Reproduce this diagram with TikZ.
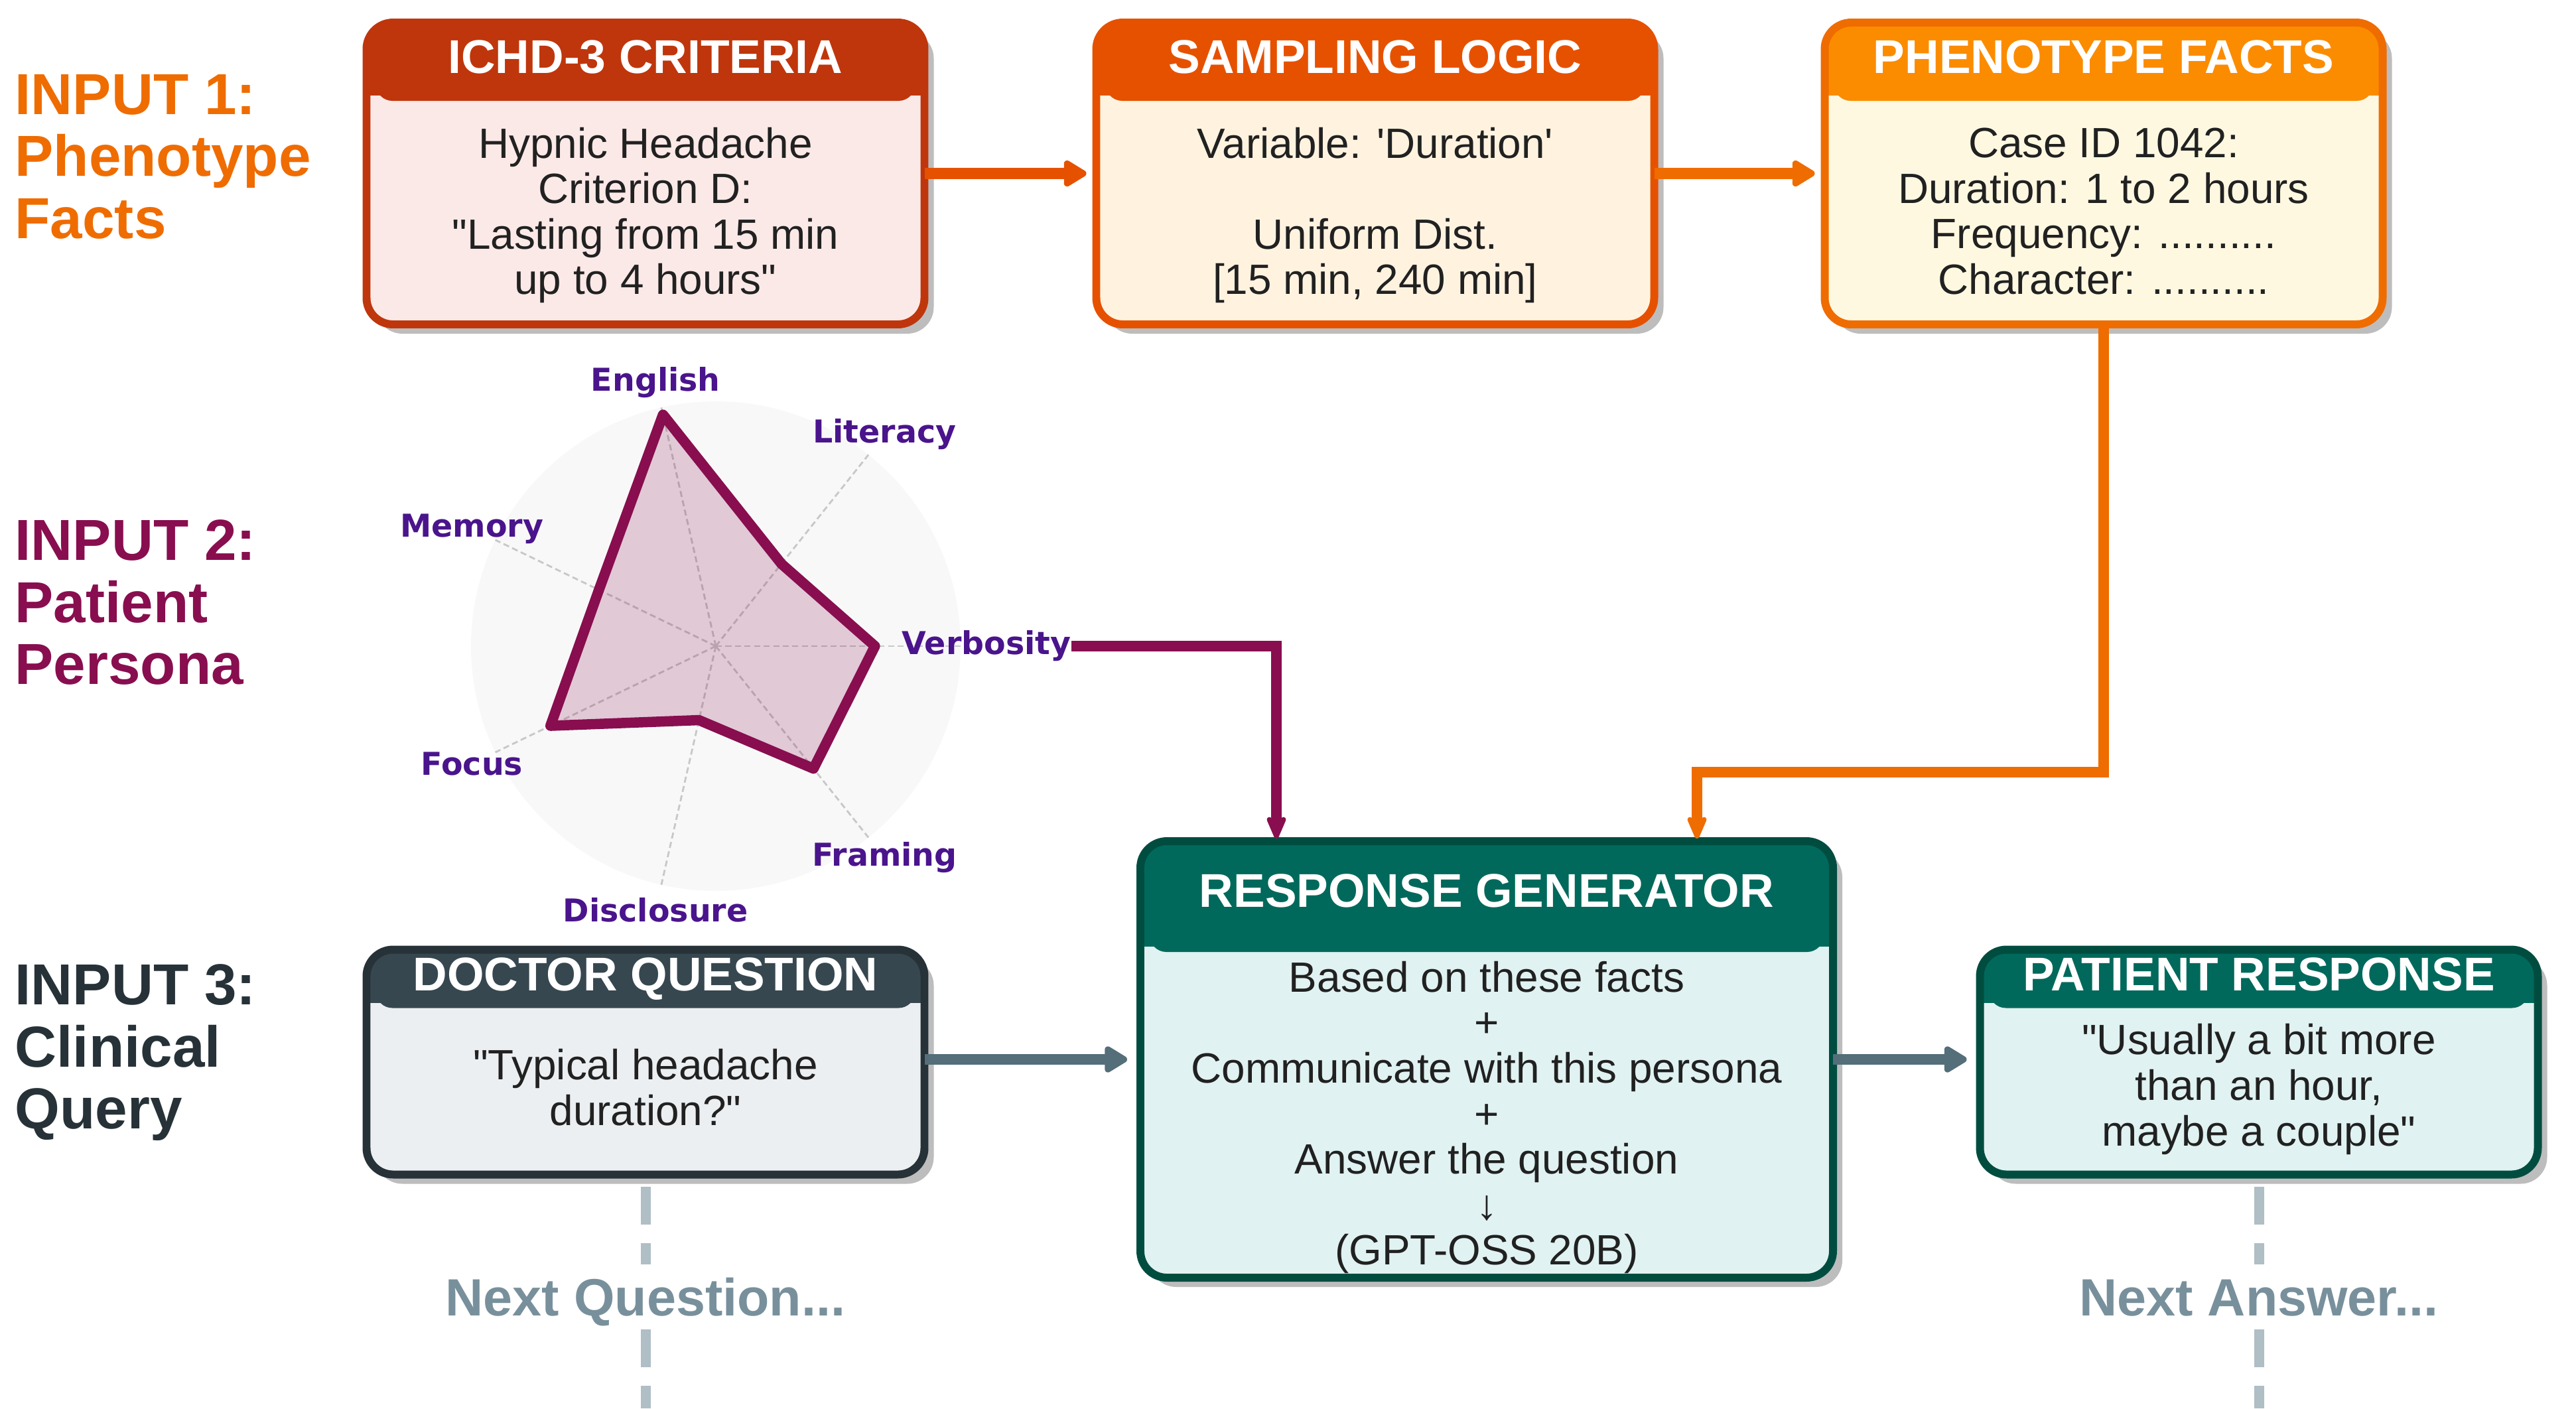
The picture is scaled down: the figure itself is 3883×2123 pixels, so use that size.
\documentclass[tikz,border=0pt]{standalone}
\usepackage{fontspec}
\setmainfont{Liberation Sans}[Ligatures=TeXOff]
\newfontfamily\radarfont{DejaVu Sans}[Ligatures=TeXOff]
\usetikzlibrary{arrows.meta,calc}

% panel colours: B = border, H = header band, F = body fill
\definecolor{ichdB}{HTML}{BF360C}\definecolor{ichdH}{HTML}{BF360C}\definecolor{ichdF}{HTML}{FBE9E7}
\definecolor{sampB}{HTML}{E65100}\definecolor{sampH}{HTML}{E65100}\definecolor{sampF}{HTML}{FFF3E0}
\definecolor{phenB}{HTML}{EF6C00}\definecolor{phenH}{HTML}{FB8C00}\definecolor{phenF}{HTML}{FFF8E1}
\definecolor{genB}{HTML}{004D40}\definecolor{genH}{HTML}{00695C}\definecolor{genF}{HTML}{E0F2F1}
\definecolor{docB}{HTML}{263238}\definecolor{docH}{HTML}{37474F}\definecolor{docF}{HTML}{ECEFF1}
\definecolor{shadowgray}{HTML}{BDBDBD}
\definecolor{bodyink}{HTML}{212121}
\definecolor{inOne}{HTML}{EF6C00}
\definecolor{inTwo}{HTML}{880E4F}
\definecolor{inThree}{HTML}{263238}
\definecolor{radarlbl}{HTML}{4A148C}
\definecolor{radarbg}{HTML}{F8F8F8}
\definecolor{spokegray}{HTML}{C8C8C8}
\definecolor{arrowgray}{HTML}{546E7A}
\definecolor{nextink}{HTML}{78909C}
\definecolor{nextdash}{HTML}{B0BEC5}

\tikzset{
  paneltitle/.style={anchor=base, inner sep=0pt, text=white,
    font=\bfseries\fontsize{20.3}{22}\selectfont},
  panelbody/.style={align=center, inner sep=0pt, text=bodyink,
    font=\fontsize{18.15}{19.5}\selectfont},
  inputlbl/.style={anchor=west, align=left, inner sep=0pt,
    font=\bfseries\fontsize{24.8}{26.6}\selectfont},
  axislbl/.style={inner sep=0pt, text=radarlbl,
    font=\radarfont\bfseries\fontsize{13.5}{15}\selectfont},
  spoke/.style={spokegray, line width=0.8pt, dash pattern=on 2.6pt off 1.5pt},
  flow/.style={line width=4.6pt},
  tri/.style={-{Triangle[length=11pt,width=12.5pt,round]}},
  stl/.style={-{Stealth[length=13.5pt,width=11.5pt,inset=5pt,round]}},
  nextline/.style={nextdash, line width=4.27pt, dash pattern=on 16.2pt off 8pt},
  nexttext/.style={inner sep=0pt, minimum height=0.96cm, text height=16.1pt, text depth=0pt,
    text=nextink, font=\bfseries\fontsize{22.5}{24}\selectfont},
}

% #1 name, #2 centre, #3 width, #4 height, #5 header depth, #6 colour prefix,
% #7 title, #8 body, #9 vertical nudge of the body text
\newcommand{\panel}[9]{%
  \node[minimum width={#3*0.01cm}, minimum height={#4*0.01cm}, inner sep=0pt, outer sep=0pt] (#1) at #2 {};
  \fill[shadowgray, rounded corners=0.4cm] ($(#1.south west)+(14,14)$) rectangle ($(#1.north east)+(14,14)$);
  \begin{scope}
    \clip[rounded corners=0.4cm] (#1.south west) rectangle (#1.north east);
    \fill[#6F] (#1.south west) rectangle (#1.north east);
    \fill[#6H] (#1.north west) rectangle ($(#1.north east)+(0,#5-8)$);
    \fill[#6H, rounded corners=0.25cm] ($(#1.north west)+(14,#5-50)$) rectangle ($(#1.north east)+(-14,#5)$);
  \end{scope}
  \draw[#6B, line width=3.4pt, rounded corners=0.4cm] (#1.south west) rectangle (#1.north east);
  \node[paneltitle] at ($(#1.north)+(0,{0.47*#5+21})$) {#7};
  \node[panelbody] at ($(#1.north)+(0,{(#4+#5)/2+4+#9})$) {#8};
}

\begin{document}
\begin{tikzpicture}[x=0.01cm, y=-0.01cm]
\useasboundingbox (0,0) rectangle (3883,2123);

% row labels
\node[inputlbl, text=inOne]   (lblOne)   at (22,236)  {INPUT 1:\\Phenotype\\Facts};
\node[inputlbl, text=inTwo]   (lblTwo)   at (22,908)  {INPUT 2:\\Patient\\Persona};
\node[inputlbl, text=inThree] (lblThree) at (22,1587) {INPUT 3:\\Clinical\\Query};

% persona radar chart
\begin{scope}[shift={(1079,974)}, yscale=-1]
  \fill[radarbg] (0,0) circle (369);
  \foreach \k in {0,...,6} \draw[spoke] (0,0) -- ({\k*360/7}:369);
  \filldraw[draw=inTwo, fill=inTwo, fill opacity=0.2, line width=4.4pt, line join=round]
    (0:{0.65*369}) -- ({360/7}:{0.43*369}) -- ({2*360/7}:{0.97*369})
    -- ({3*360/7}:{0.53*369}) -- ({4*360/7}:{0.75*369})
    -- ({5*360/7}:{0.31*369}) -- ({6*360/7}:{0.64*369}) -- cycle;
  \node[axislbl] (verb) at (0:408) {Verbosity};
  \node[axislbl] (lit)  at ({360/7}:408) {Literacy};
  \node[axislbl] (eng)  at ({2*360/7}:408) {English};
  \node[axislbl] (mem)  at ({3*360/7}:408) {Memory};
  \node[axislbl] (foc)  at ({4*360/7}:408) {Focus};
  \node[axislbl] (disc) at ({5*360/7}:408) {Disclosure};
  \node[axislbl] (fram) at ({6*360/7}:408) {Framing};
\end{scope}

% continuation lines below the dialogue turns
\node[nexttext] (nextQ) at (973,1955) {Next Question...};
\node[nexttext] (nextA) at (3405,1955) {Next Answer...};
\coordinate (qEnd) at (973,2123);
\coordinate (aEnd) at (3405,2123);
\draw[nextline] (973,1789) -- (nextQ.north);
\draw[nextline] (nextQ.south) -- (qEnd);
\draw[nextline] (3405,1789) -- (nextA.north);
\draw[nextline] (nextA.south) -- (aEnd);

% panels
\panel{ichd}{(973,261.5)}{841}{455}{118}{ichd}{ICHD-3 CRITERIA}
  {Hypnic Headache\\Criterion D:\\"Lasting from 15 min\\up to 4 hours"}{0}
\panel{samp}{(2073,261.5)}{841}{455}{118}{samp}{SAMPLING LOGIC}
  {Variable: 'Duration'\\~\\Uniform Dist.\\{[}15 min, 240 min{]}}{0}
\panel{phen}{(3171,261.5)}{841}{455}{118}{phen}{PHENOTYPE FACTS}
  {Case ID 1042:\\Duration: 1 to 2 hours\\Frequency: ..........\\Character: ..........}{-6}
\panel{gen}{(2241,1597)}{1044}{658}{167}{gen}{RESPONSE GENERATOR}
  {Based on these facts\\+\\Communicate with this persona\\+\\Answer the question\\↓\\(GPT-OSS 20B)}{0}
\panel{doc}{(973,1601)}{841}{339}{88}{doc}{DOCTOR QUESTION}
  {"Typical headache\\duration?"}{-10}
\panel{pat}{(3405,1601)}{841}{339}{88}{gen}{PATIENT RESPONSE}
  {"Usually a bit more\\than an hour,\\maybe a couple"}{-7}

% connectors
\coordinate (phJoin) at (2558,1164);
\draw[flow, tri, color=sampB, shorten >=0.15cm] (ichd.east) -- (samp.west);
\draw[flow, tri, color=phenB, shorten >=0.15cm] (samp.east) -- (phen.west);
\draw[flow, stl, color=phenB, shorten >=0.04cm] (phen.south) |- (phJoin) -- (phJoin |- gen.north);
\draw[flow, stl, color=inTwo, shorten >=0.04cm] (verb.east) -| ($(gen.north west)+(205,0)$);
\draw[flow, tri, color=arrowgray, shorten >=0.2cm] (doc.east |- gen.west) -- (gen.west);
\draw[flow, tri, color=arrowgray, shorten >=0.2cm] (gen.east) -- (gen.east -| pat.west);
\end{tikzpicture}
\end{document}
